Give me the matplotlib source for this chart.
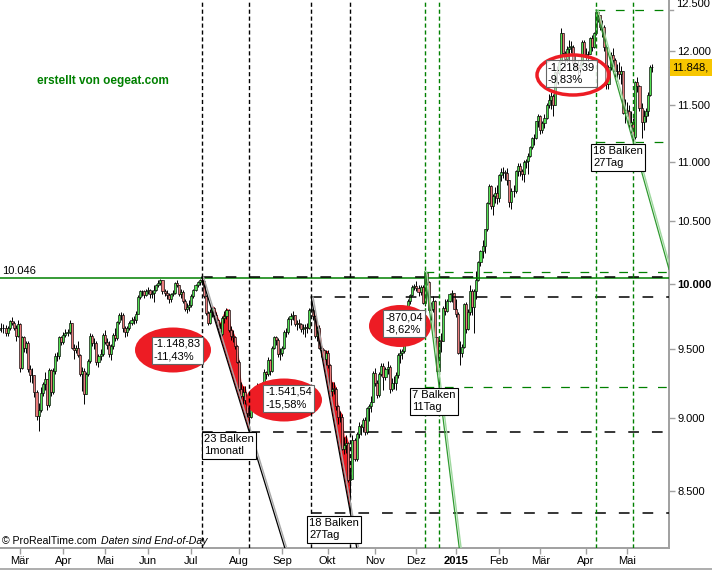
import numpy as np
import pandas as pd
import matplotlib
matplotlib.use('Agg')
import matplotlib.pyplot as plt
from matplotlib.patches import Ellipse, Rectangle
from matplotlib.lines import Line2D
from matplotlib.ticker import FixedLocator, NullLocator

plt.rcParams['font.family'] = ['Liberation Sans', 'DejaVu Sans']

# trading days (Xetra holidays removed)
holidays = ['2014-04-18', '2014-04-21', '2014-05-01', '2014-12-24', '2014-12-25',
            '2014-12-26', '2014-12-31', '2015-01-01', '2015-04-03', '2015-04-06', '2015-05-01']
dates = pd.bdate_range('2014-02-17', '2015-05-20')
dates = dates[~dates.isin(pd.to_datetime(holidays))]

first_open = 9640
close = [
    9662, 9656, 9660, 9618, 9656, 9709, 9699, 9661, 9600, 9692,  # feb
    9359, 9589, 9508, 9543, 9351, 9311, 9307, 9189, 9018, 9056, 9181, 9243, 9277, 9093, 9343, 9189, 9338, 9451, 9448, 9588, 9556,
    9604, 9623, 9628, 9695, 9510, 9491, 9507, 9455, 9315, 9339, 9174, 9317, 9409, 9600, 9545, 9548, 9401, 9446, 9467, 9603,
    9556, 9530, 9467, 9521, 9607, 9581, 9703, 9755, 9760, 9656, 9630, 9659, 9697, 9722, 9721, 9768, 9893, 9940, 9939, 9913, 9943,
    9950, 9920, 9926, 9948, 9987, 10008, 10028, 9939, 9930, 9913, 9883, 9920, 9929, 10005, 9987, 9921, 9938, 9868, 9805, 9815, 9833,
    9902, 9950, 9990, 10009, 10029, 10020, 9906, 9772, 9700, 9783, 9808, 9760, 9719, 9660, 9612, 9735, 9753, 9797, 9645, 9598, 9593, 9520, 9407,
    9210, 9154, 9189, 9130, 9039, 9010, 9180, 9070, 9199, 9226, 9092, 9246, 9334, 9315, 9420, 9339, 9511, 9588, 9569, 9462, 9470,
    9507, 9626, 9627, 9724, 9748, 9758, 9687, 9700, 9691, 9651, 9660, 9662, 9661, 9799, 9799, 9750, 9596, 9662, 9510, 9490, 9423, 9474,
    9382, 9195, 9210, 9209, 9086, 9005, 9005, 8788, 8812, 8826, 8572, 8582, 8850, 8717, 8887, 8941, 8940, 8988, 8903, 9068, 9083, 9114, 9327,
    9251, 9167, 9315, 9378, 9291, 9351, 9369, 9211, 9249, 9253, 9306, 9456, 9472, 9484, 9733, 9785, 9862, 9915, 9974, 9980,
    9963, 9934, 9972, 9851, 10087, 10014, 9799, 9800, 9862, 9594, 9335, 9564, 9563, 9811, 9787, 9865, 9922, 9927, 9806,
    9765, 9473, 9469, 9518, 9838, 9648, 9782, 9942, 9818, 9941, 10032, 10168, 10257, 10299, 10436, 10649, 10798, 10628, 10710, 10738, 10694,
    10891, 10911, 10911, 10905, 10846, 10664, 10754, 10752, 10920, 10963, 10924, 10895, 11001, 11006, 11051, 11131, 11206, 11211, 11355, 11402,
    11280, 11345, 11390, 11504, 11551, 11582, 11500, 11806, 11799, 11901, 12167, 11980, 11922, 12019, 12040, 12040, 11892, 11865, 11843, 11868, 12086, 11966,
    11968, 11967, 12124, 12036, 12166, 12375, 12339, 12228, 12232, 12039, 11689, 11850, 11958, 11918, 11812, 11811, 11787, 11812, 11432, 11454,
    11452, 11327, 11351, 11216, 11710, 11673, 11472, 11351, 11400, 11447, 11594, 11853, 11848,
]
high = [
    9690, 9700, 9690, 9680, 9670, 9720, 9740, 9710, 9680, 9720,
    9700, 9600, 9600, 9560, 9560, 9380, 9360, 9310, 9200, 9110, 9220, 9260, 9330, 9280, 9360, 9350, 9360, 9470, 9480, 9600, 9600,
    9630, 9650, 9650, 9720, 9700, 9540, 9530, 9560, 9460, 9370, 9360, 9330, 9430, 9620, 9610, 9580, 9560, 9460, 9500, 9620,
    9640, 9580, 9560, 9540, 9620, 9660, 9710, 9770, 9780, 9770, 9670, 9670, 9710, 9740, 9750, 9790, 9910, 9950, 9950, 9950, 9960,
    9970, 9960, 9950, 9990, 10000, 10030, 10040, 10030, 9960, 9950, 9930, 9930, 9950, 10010, 10030, 9990, 9960, 9950, 9880, 9850, 9870,
    9920, 9960, 10000, 10020, 10040, 10051, 10020, 9910, 9790, 9800, 9830, 9820, 9780, 9730, 9700, 9750, 9790, 9810, 9800, 9670, 9640, 9600, 9530,
    9420, 9260, 9230, 9230, 9150, 9080, 9200, 9190, 9210, 9250, 9240, 9260, 9350, 9340, 9440, 9430, 9520, 9600, 9600, 9580, 9510,
    9520, 9640, 9660, 9740, 9770, 9790, 9760, 9720, 9730, 9700, 9690, 9690, 9700, 9810, 9896, 9800, 9750, 9670, 9680, 9530, 9500, 9490,
    9490, 9390, 9260, 9260, 9220, 9090, 9050, 9030, 8870, 8880, 8830, 8640, 8880, 8860, 8900, 8970, 8960, 9000, 9010, 9080, 9100, 9160, 9340,
    9360, 9270, 9330, 9400, 9400, 9370, 9410, 9380, 9290, 9300, 9330, 9470, 9500, 9500, 9750, 9800, 9880, 9920, 9990, 10000,
    10020, 9990, 9990, 9990, 10093, 10090, 10020, 9860, 9900, 9870, 9590, 9580, 9620, 9830, 9880, 9880, 9930, 9950, 9930,
    9880, 9780, 9560, 9540, 9850, 9860, 9800, 9990, 9960, 9960, 10100, 10180, 10270, 10350, 10440, 10660, 10810, 10800, 10730, 10790, 10800,
    10900, 10950, 10960, 10930, 10950, 10850, 10780, 10800, 10930, 10990, 10990, 10940, 11020, 11030, 11080, 11140, 11220, 11240, 11360, 11420,
    11410, 11360, 11420, 11520, 11600, 11620, 11600, 11810, 11860, 11920, 12220, 12170, 12000, 12050, 12100, 12090, 12060, 11960, 11920, 11900, 12100, 12100,
    12030, 12000, 12130, 12150, 12180, 12391, 12380, 12340, 12290, 12250, 12050, 11870, 11990, 12030, 11930, 11880, 11900, 11860, 11800, 11560,
    11530, 11500, 11450, 11390, 11720, 11760, 11680, 11520, 11460, 11480, 11620, 11870, 11880,
]
low = [
    9620, 9630, 9620, 9600, 9600, 9640, 9680, 9640, 9560, 9590,
    9330, 9350, 9480, 9470, 9330, 9260, 9250, 9150, 8990, 8910, 9040, 9160, 9200, 9060, 9080, 9160, 9170, 9320, 9410, 9430, 9530,
    9540, 9590, 9600, 9610, 9500, 9430, 9470, 9440, 9300, 9190, 9100, 9170, 9300, 9400, 9520, 9500, 9380, 9370, 9420, 9450,
    9540, 9500, 9440, 9420, 9500, 9560, 9570, 9690, 9720, 9630, 9590, 9600, 9640, 9680, 9690, 9700, 9770, 9880, 9900, 9890, 9900,
    9920, 9890, 9890, 9860, 9940, 9970, 9990, 9920, 9900, 9880, 9850, 9860, 9900, 9920, 9970, 9900, 9890, 9850, 9790, 9770, 9790,
    9820, 9890, 9940, 9970, 9990, 9990, 9890, 9760, 9680, 9690, 9740, 9740, 9700, 9640, 9580, 9600, 9700, 9730, 9630, 9570, 9550, 9500, 9400,
    9190, 9120, 9100, 9100, 9010, 8903, 9000, 9050, 9050, 9170, 9070, 9080, 9230, 9280, 9300, 9310, 9330, 9500, 9530, 9440, 9420,
    9450, 9500, 9590, 9610, 9680, 9720, 9670, 9640, 9660, 9630, 9610, 9590, 9620, 9650, 9780, 9720, 9580, 9560, 9500, 9440, 9410, 9380,
    9360, 9160, 9160, 9170, 9060, 8960, 8970, 8780, 8750, 8760, 8560, 8355, 8590, 8700, 8700, 8860, 8880, 8900, 8880, 8890, 8980, 9040, 9150,
    9230, 9140, 9150, 9300, 9200, 9270, 9320, 9180, 9190, 9210, 9200, 9290, 9400, 9430, 9470, 9700, 9770, 9840, 9900, 9950,
    9940, 9900, 9910, 9840, 9830, 9990, 9780, 9720, 9780, 9590, 9320, 9219, 9480, 9560, 9760, 9780, 9860, 9860, 9800,
    9740, 9460, 9382, 9440, 9510, 9620, 9640, 9760, 9760, 9620, 9880, 10020, 10140, 10200, 10240, 10420, 10640, 10600, 10550, 10650, 10640,
    10660, 10840, 10860, 10850, 10800, 10620, 10600, 10700, 10740, 10880, 10880, 10850, 10830, 10950, 10900, 11040, 11110, 11150, 11200, 11310,
    11240, 11250, 11300, 11380, 11480, 11470, 11400, 11500, 11700, 11780, 11900, 11950, 11840, 11900, 11900, 11980, 11860, 11820, 11730, 11780, 11860, 11950,
    11920, 11900, 11980, 12000, 12030, 12150, 12280, 12200, 12130, 12000, 11650, 11650, 11820, 11860, 11760, 11720, 11740, 11690, 11420, 11340,
    11400, 11300, 11250, 11172, 11200, 11620, 11450, 11210, 11280, 11350, 11400, 11580, 11800,
]

month_labels = ['Mär', 'Apr', 'Mai', 'Jun', 'Jul', 'Aug', 'Sep', 'Okt', 'Nov', 'Dez',
                '2015', 'Feb', 'Mär', 'Apr', 'Mai']
price_ticks = [8500, 9000, 9500, 10000, 10500, 11000, 11500, 12000]
last_price = '11.848,'
level_line = 10046

# swings: (top date, bottom date)
black_swings = [('2014-07-08', '2014-08-08'), ('2014-09-19', '2014-10-16')]
green_swings = [('2014-12-05', '2014-12-16'), ('2015-04-10', '2015-05-07')]
drop_texts = ['-1.148,83\n-11,43%', '-1.541,54\n-15,58%', '-870,04\n-8,62%', '-1.218,39\n-9,83%']
bar_texts = ['23 Balken\n1monatl', '18 Balken\n27Tag', '7 Balken\n11Tag', '18 Balken\n27Tag']

c = np.array(close, float)
o = np.concatenate([[first_open], c[:-1]])
h = np.maximum(np.array(high, float), np.maximum(o, c))
l = np.minimum(np.array(low, float), np.minimum(o, c))
x = np.arange(len(c))

W, H = 669.0, 548.0
YMIN, YMAX = 8129, 12489
XMIN, XMAX = 0.31, 324.3


def pa(px, py):
    return px / W, 1 - py / H


fig = plt.figure(figsize=(7.12, 5.70), dpi=100)
ax = fig.add_axes([0, 22 / 570, W / 712, H / 570])
ax.set_yscale('log')
ax.set_xlim(XMIN, XMAX)
ax.set_ylim(YMIN, YMAX)

GREEN = '#008000'
RED = '#ed1c24'
idx = {d: i for i, d in enumerate(dates.strftime('%Y-%m-%d'))}


def line_at(i0, v0, i1, v1, xs):
    return np.exp(np.log(v0) + (np.log(v1) - np.log(v0)) * (np.asarray(xs) - i0) / (i1 - i0))


# red wedges for the black swings
for a, b in black_swings:
    i0, i1 = idx[a], idx[b]
    xs = np.linspace(i0, i1, 200)
    base = line_at(i0, h[i0], i1, l[i1], xs)
    top = np.interp(xs, x, h)
    ax.fill_between(xs, base, np.maximum(top, base), color=RED, lw=0, zorder=2)

# candles
up = c >= o
ax.vlines(x, l, h, color='black', lw=0.7, zorder=3)
body_lo = np.minimum(o, c)
body_h = np.maximum(np.abs(c - o), 4)
ax.bar(x[up], body_h[up], bottom=body_lo[up], width=1.0, color='#52e052',
       edgecolor='black', lw=0.45, zorder=4)
ax.bar(x[~up], body_h[~up], bottom=body_lo[~up], width=1.0, color='#ea7c7c',
       edgecolor='black', lw=0.45, zorder=4)

# level line
ax.axhline(level_line, color=GREEN, lw=1.1, zorder=5)
ax.text(*pa(2, 271), '10.046', transform=ax.transAxes, fontsize=8, va='center', ha='left')

# swing guides
for k, (a, b) in enumerate(black_swings + green_swings):
    i0, i1 = idx[a], idx[b]
    v0, v1 = h[i0], l[i1]
    col = 'black' if k < 2 else GREEN
    shade = '#a8a8a8' if k < 2 else '#9fd89f'
    for i in (i0, i1):
        ax.axvline(i, color=col, lw=1.0, ls=(0, (3, 2)), zorder=6)
    for v in (v0, v1):
        ax.hlines(v, i0, XMAX, color=col, lw=1.1 if k < 2 else 0.9,
                  linestyles=[(0, (7, 8.5))], zorder=6)
    if k == 3:
        xe = XMAX
        ve = line_at(i0, v0, i1, v1, xe)
    else:
        t = np.log(v0 / YMIN) / np.log(v0 / v1)
        xe = i0 + t * (i1 - i0)
        ve = YMIN
    ax.plot([i0 + 0.9, xe + 0.9], [v0, ve], color=shade, lw=1.0, zorder=6)
    ax.plot([i0, xe], [v0, ve], color=col if k < 2 else '#2f9a2f', lw=0.9, zorder=6)

# ellipses + drop texts
ell = [((173, 350), 76, 45), ((284, 400), 76, 43), ((400, 326), 62, 42), ((573, 75), 72, 40)]
for k, ((cx, cy), ew, eh) in enumerate(ell):
    if k < 3:
        e = Ellipse(pa(cx, cy), ew / W, eh / H, transform=ax.transAxes,
                    facecolor=RED, edgecolor='none', zorder=5)
    else:
        e = Ellipse(pa(cx, cy), ew / W, eh / H, transform=ax.transAxes,
                    facecolor=(1, 1, 1, 0.35), edgecolor=RED, lw=2.5, zorder=7)
    ax.add_patch(e)

drop_pos = [(154, 339), (265, 387), (385, 312), (548, 62)]
for k, (t, (px, py)) in enumerate(zip(drop_texts, drop_pos)):
    ax.text(*pa(px, py), t, transform=ax.transAxes, fontsize=8, va='top', ha='left',
            linespacing=1.3, zorder=8,
            bbox=dict(boxstyle='square,pad=0.2', fc=(1, 1, 1, 0.75 if k == 3 else 1),
                      ec='#666666', lw=0.8))

bar_pos = [(204, 434), (309, 518), (412, 390), (593, 146)]
for t, (px, py) in zip(bar_texts, bar_pos):
    ax.text(*pa(px, py), t, transform=ax.transAxes, fontsize=8, va='top', ha='left',
            linespacing=1.3, zorder=8,
            bbox=dict(boxstyle='square,pad=0.2', fc='white', ec='black', lw=0.8))

ax.text(*pa(37, 81), 'erstellt von oegeat.com', transform=ax.transAxes, fontsize=8.5,
        fontweight='bold', color=GREEN, va='center', ha='left')
ax.text(*pa(2, 541), '\u00a9 ProRealTime.com', transform=ax.transAxes, fontsize=7.6,
        va='center', ha='left')
ax.text(*pa(101, 541), 'Daten sind End-of-Day', transform=ax.transAxes, fontsize=7.6,
        style='italic', va='center', ha='left')

# axes styling
for s in ('left', 'top'):
    ax.spines[s].set_visible(False)
for s in ('right', 'bottom'):
    ax.spines[s].set_color('#a0a0a0')
    ax.spines[s].set_linewidth(1.4)

ax.yaxis.tick_right()
ax.yaxis.set_major_locator(FixedLocator(price_ticks))
ax.yaxis.set_minor_locator(NullLocator())
ax.set_yticklabels([f'{v:,}'.replace(',', '.') for v in price_ticks])
for lab, v in zip(ax.get_yticklabels(), price_ticks):
    if v == 10000:
        lab.set_fontweight('bold')
ax.tick_params(axis='y', which='major', length=4, width=1, color='#a0a0a0',
               labelsize=8, pad=2)

month_start = [i for i in range(1, len(dates)) if dates[i].month != dates[i - 1].month]
ax.set_xticks(month_start)
ax.set_xticklabels(month_labels)
for lab in ax.get_xticklabels():
    if lab.get_text() == '2015':
        lab.set_fontweight('bold')
        lab.set_fontsize(9.5)
ax.tick_params(axis='x', length=4, width=1, color='#a0a0a0', labelsize=8, pad=2)

# top label and last price marker on the price scale
ax.plot([1, 1 + 4 / W], [1 - 10 / H] * 2, transform=ax.transAxes, color='#a0a0a0',
        lw=1, clip_on=False)
fig.text(676 / 712, 1 - 4 / 570, '12.500', fontsize=8, va='center', ha='left')
fig.add_artist(Rectangle((670 / 712, 1 - 76 / 570), 42 / 712, 17 / 570,
                         transform=fig.transFigure, facecolor='#f7c600', edgecolor='none'))
fig.text(672 / 712, 1 - 67.5 / 570, last_price, fontsize=8, va='center', ha='left')
ax.plot([1, 1 + 4 / W], [1 - 67 / H] * 2, transform=ax.transAxes, color='#333333',
        lw=1, clip_on=False)
fig.add_artist(Line2D([0, 1], [0.6 / 570] * 2, transform=fig.transFigure,
                      color='#a0a0a0', lw=1.2))

fig.savefig('out.png', dpi=100)
